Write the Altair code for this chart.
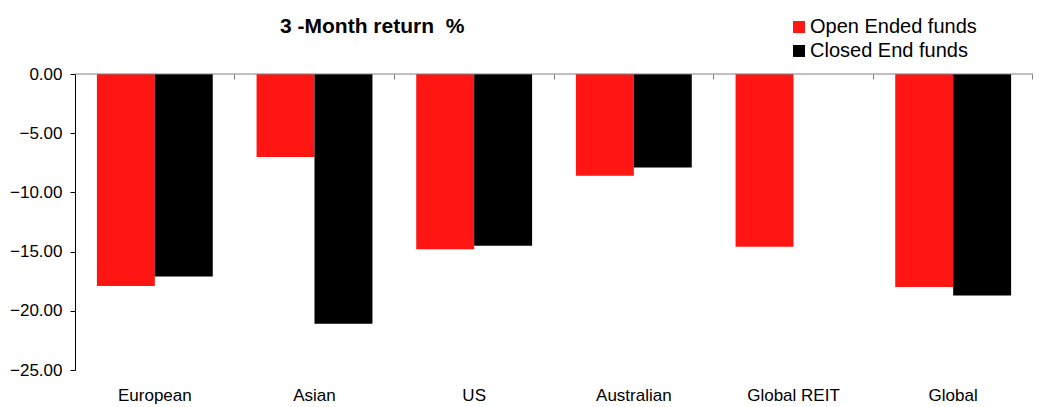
import altair as alt
import pandas as pd

categories = ["European", "Asian", "US", "Australian", "Global REIT", "Global"]
open_ended = [-17.9, -7.0, -14.8, -8.6, -14.6, -18.0]
closed_end = [-17.1, -21.1, -14.5, -7.9, None, -18.7]
series = ["Open Ended funds", "Closed End funds"]
colors = ["#FF1612", "#000000"]
y_ticks = [-25, -20, -15, -10, -5, 0]

rows = []
for c, o, cl in zip(categories, open_ended, closed_end):
    rows.append({"category": c, "series": series[0], "value": o})
    if cl is not None:
        rows.append({"category": c, "series": series[1], "value": cl})
df = pd.DataFrame(rows)

FONT = "Liberation Sans"

x_scale = alt.Scale(domain=categories, paddingInner=0, paddingOuter=0)

bars = alt.Chart(df).mark_bar().encode(
    x=alt.X("category:N", scale=x_scale, sort=categories, title=None,
            axis=alt.Axis(orient="bottom", domain=False, ticks=False, labelAngle=0,
                          labelFontSize=17, labelFont=FONT, labelColor="black",
                          labelPadding=17)),
    xOffset=alt.XOffset("series:N", sort=series,
                        scale=alt.Scale(domain=series, paddingOuter=0.378, paddingInner=0)),
    y=alt.Y("value:Q", scale=alt.Scale(domain=[-25, 0], nice=False), title=None,
            axis=alt.Axis(values=y_ticks, format=".2f", grid=False, domainColor="black",
                          tickColor="black", tickSize=5, labelFontSize=17, labelFont=FONT,
                          labelColor="black", labelPadding=8)),
    color=alt.Color("series:N", sort=series, scale=alt.Scale(domain=series, range=colors),
                    legend=alt.Legend(title=None, orient="none", legendX=714, legendY=-57,
                                      symbolType="square", symbolSize=144,
                                      symbolStrokeWidth=0, labelFontSize=20, labelFont=FONT,
                                      labelColor="black", rowPadding=4, labelOffset=1,
                                      labelLimit=400, padding=0)),
)

ticks_layer = alt.Chart(pd.DataFrame({"category": categories})).mark_point(opacity=0).encode(
    x=alt.X("category:N", scale=x_scale, sort=categories, title=None,
            axis=alt.Axis(orient="top", labels=False, domain=False, ticks=True, tickSize=5,
                          tickColor="#808080", bandPosition=1, offset=-5)),
    y=alt.datum(0),
)

zero_rule = alt.Chart(pd.DataFrame({"v": [0]})).mark_rule(color="#808080", strokeWidth=1).encode(
    y=alt.Y("v:Q")
)

chart = alt.layer(bars, zero_rule, ticks_layer).resolve_axis(x="independent").properties(
    width=958,
    height=296,
    autosize=alt.AutoSizeParams(type="none"),
    padding={"left": 67, "top": 66, "right": 1, "bottom": 36},
    title=alt.TitleParams("3 -Month return \u00a0%", anchor="start", dx=205, fontSize=21,
                          fontWeight="bold", font=FONT, color="black", offset=0, dy=20,
                          frame="group"),
).configure_view(stroke=None)

chart.save("out.html", embed_options={"renderer": "svg", "actions": False})
